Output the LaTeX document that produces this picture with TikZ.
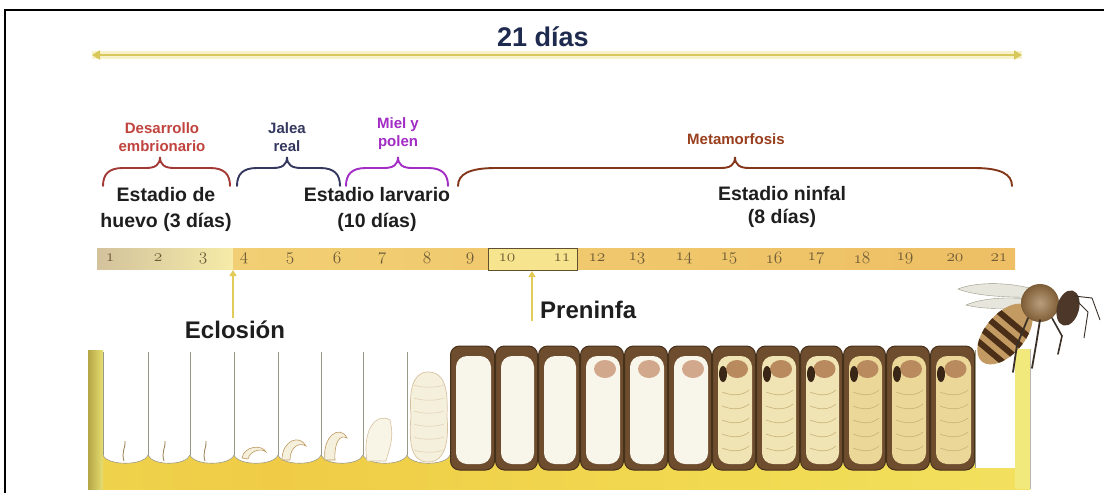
\documentclass[tikz,border=0pt]{standalone}
\usepackage{fontspec}
\setmainfont{Liberation Sans}
\usetikzlibrary{arrows.meta}

% palette
\definecolor{titleblue}{HTML}{1F2A4F}
\definecolor{inkdark}{HTML}{1E1E1E}
\definecolor{embred}{HTML}{C0433D}
\definecolor{jelly}{HTML}{35385E}
\definecolor{honey}{HTML}{A22CC4}
\definecolor{metabrown}{HTML}{9A3F1E}
\definecolor{spanyellow}{HTML}{D8C85A}
\definecolor{spanglow}{HTML}{F8F2CC}
\definecolor{barA}{HTML}{D3C29C}
\definecolor{barB}{HTML}{F6EBA8}
\definecolor{barC}{HTML}{F2CF74}
\definecolor{barD}{HTML}{EEBF64}
\definecolor{boxfill}{HTML}{F6E48E}
\definecolor{boxedge}{HTML}{5E5030}
\definecolor{numink}{HTML}{6E5C38}
\definecolor{pointer}{HTML}{E2CB58}
\definecolor{bandA}{HTML}{ECE25A}
\definecolor{bandB}{HTML}{F0CC46}
\definecolor{bandC}{HTML}{F1DA52}
\definecolor{bandD}{HTML}{F4EA74}
\definecolor{wallA}{HTML}{B5A646}
\definecolor{wallB}{HTML}{E6DE72}
\definecolor{wallR}{HTML}{F1E97C}
\definecolor{cellgray}{HTML}{9A9886}
\definecolor{capbrown}{HTML}{6E4D2F}
\definecolor{capedge}{HTML}{45301A}
\definecolor{pupaW}{HTML}{F8F5EA}
\definecolor{pupaY}{HTML}{F1E4B4}
\definecolor{pupaYY}{HTML}{EBD898}
\definecolor{headPink}{HTML}{D2A88C}
\definecolor{headBrown}{HTML}{B98A5E}
\definecolor{eyeDark}{HTML}{3A2616}
\definecolor{pupaline}{HTML}{C9B276}
\definecolor{larvaCream}{HTML}{F5F0DC}
\definecolor{larvaEdge}{HTML}{BE9A62}
\definecolor{beeTan}{HTML}{C29A62}
\definecolor{beeStripe}{HTML}{4A2E18}
\definecolor{beeThorax}{HTML}{9C7444}
\definecolor{beeHead}{HTML}{4C3728}
\definecolor{beeLeg}{HTML}{3A3028}
\definecolor{wingGray}{HTML}{E4E4DA}

\pgfdeclarehorizontalshading{band}{100bp}{color(0bp)=(bandA); color(35bp)=(bandB); color(60bp)=(bandC); color(100bp)=(bandD)}

% a curly stage brace: left x, tip x, right x, colour, end spread
\newcommand\stagebrace[5]{%
  \draw[bracestyle,#4] (#1,186) .. controls (#1,174) and ({#1+0.3*#5},168) .. ({#1+#5},168)
    -- ({#2-14},168) .. controls ({#2-5},168) and (#2,165) .. (#2,157)
    .. controls (#2,165) and ({#2+5},168) .. ({#2+14},168)
    -- ({#3-#5},168) .. controls ({#3-0.3*#5},168) and (#3,174) .. (#3,186);}

\newcommand\daynum[1]{{\usefont{OML}{cmm}{m}{it}\fontsize{17}{18}\selectfont #1}}

\tikzset{
  bracestyle/.style={line width=1.9pt, line cap=round},
  titletext/.style={font=\bfseries\fontsize{27}{30}\selectfont, text=titleblue, inner sep=0pt},
  stagetext/.style={font=\bfseries\fontsize{19.5}{26}\selectfont, text=inkdark, align=center, inner sep=0pt},
  labeltext/.style={font=\bfseries\fontsize{15}{18}\selectfont, align=center, inner sep=0pt},
  calltext/.style={font=\bfseries\fontsize{24}{28}\selectfont, text=inkdark, inner sep=0pt, anchor=base},
  daylabel/.style={text=numink, inner sep=0pt},
  pointerarrow/.style={draw=pointer, line width=2.6pt, -{Triangle[length=6pt,width=7pt]}},
  cellline/.style={draw=cellgray, line width=0.6pt},
}

\begin{document}
\begin{tikzpicture}[x=1pt,y=-1pt]
\useasboundingbox (0,0) rectangle (1104,493);
\fill[white] (0,0) rectangle (1104,493);

% frame
\draw[line width=2.6pt] (5,493) -- (5,10) -- (1104,10);

% ---- overall span ----
\coordinate (spanL) at (92,55);
\coordinate (spanR) at (1022,55);
\draw[spanglow, line width=8pt] (spanL) -- (spanR);
\draw[spanyellow, line width=2.8pt, {Triangle[length=8pt,width=9pt]}-{Triangle[length=8pt,width=9pt]}] (spanL) -- (spanR);
\node[titletext] (title) at (543,37) {21 días};

% ---- feeding / phase labels and braces ----
\node[labeltext, text=embred] (desarrollo) at (162,137) {Desarrollo\\embrionario};
\node[labeltext, text=jelly] (jalea) at (287,137) {Jalea\\real};
\node[labeltext, text=honey] (miel) at (398,134) {Miel y\\polen};
\node[labeltext, text=metabrown] (metam) at (736,139) {Metamorfosis};

\stagebrace{103}{160}{230}{embred!85!black}{20}
\stagebrace{237}{287}{340}{jelly}{20}
\stagebrace{346}{398}{448}{honey}{20}
\stagebrace{458}{735}{1012}{metabrown!85!black}{38}

% ---- stage names ----
\node[stagetext] (huevo) at (166,209) {Estadio de\\huevo (3 días)};
\node[stagetext] (larvario) at (377,209) {Estadio larvario\\(10 días)};
\node[stagetext, font=\bfseries\fontsize{19.5}{23}\selectfont] (ninfal) at (782,207) {Estadio ninfal\\(8 días)};

% ---- day bar ----
\shade[left color=barA, right color=barB] (97,248) rectangle (233,269);
\shade[left color=barC, right color=barD] (233,248) rectangle (1015,269);
\filldraw[fill=boxfill, draw=boxedge, line width=0.9pt] (488,248) rectangle (577,270);
\foreach \n/\x in {1/110,2/158,3/203,4/244,5/290,6/337,7/382,8/427,9/470,10/507,11/562,
                   12/597,13/637,14/684,15/729,16/774,17/816,18/862,19/905,20/955,21/999}
  \node[daylabel] (d\n) at (\x,258) {\daynum{\n}};

% ---- hatching and prepupa pointers ----
\coordinate (eclFoot) at (233,318);
\coordinate (eclHead) at (233,270);
\draw[pointerarrow] (eclFoot) -- (eclHead);
\node[calltext] (eclosion) at (235,338) {Eclosión};

\coordinate (preFoot) at (532,321);
\coordinate (preHead) at (532,271);
\draw[pointerarrow] (preFoot) -- (preHead);
\node[calltext, anchor=base west] (preninfa) at (540,318) {Preninfa};

% ---- comb: base and walls ----
\shade[shading=band] (88,456) rectangle (1030,489);
\shade[left color=wallA, right color=wallB] (88,350) rectangle (103,489);
\fill[wallR] (1015,349) rectangle (1030,489);
\draw[cellgray!70, line width=0.5pt] (1030,349) -- (1030,489);

% open cells: white interiors with rounded floors
\foreach \a/\b in {103/148,148/190,190/234,234/278,278/321,321/363,363/407,407/450}{
  \fill[white] (\a,352) -- (\a,455) .. controls ({\a+4},466) and ({\b-4},466) .. (\b,455) -- (\b,352) -- cycle;
  \draw[cellline] (\a,455) .. controls ({\a+4},466) and ({\b-4},466) .. (\b,455);
}
\foreach \x in {103,148,190,234,278,321,363,407}
  \draw[cellline] (\x,352) -- (\x,455);

% eggs
\foreach \x in {124,164,205}
  \draw[larvaEdge!80!black, line width=0.8pt] (\x,461) .. controls ({\x-3},452) and ({\x+2},447) .. ({\x+1},441);
% young larvae, growing
\filldraw[fill=larvaCream, draw=larvaEdge, line width=0.6pt] (242,458) .. controls (244,446) and (262,444) .. (266,452) .. controls (262,448) and (250,450) .. (248,459) -- cycle;
\filldraw[fill=larvaCream, draw=larvaEdge, line width=0.6pt] (282,460) .. controls (282,440) and (300,434) .. (306,446) .. controls (300,442) and (290,446) .. (290,460) -- cycle;
\filldraw[fill=larvaCream, draw=larvaEdge, line width=0.6pt] (325,460) .. controls (322,436) and (340,424) .. (347,438) .. controls (340,434) and (334,442) .. (335,460) -- cycle;
\filldraw[fill=larvaCream!70!white, draw=larvaEdge!60!white, line width=0.6pt] (367,461) .. controls (362,430) and (376,412) .. (390,420) .. controls (395,440) and (388,452) .. (386,461) -- cycle;
% mature larva filling its cell
\filldraw[fill=larvaCream, draw=larvaEdge!60!white, line width=0.7pt] (428,372) .. controls (446,372) and (448,392) .. (447,416) .. controls (449,440) and (446,462) .. (428,462) .. controls (410,462) and (409,440) .. (411,416) .. controls (409,392) and (412,372) .. (428,372) -- cycle;
\foreach \y in {385,398,411,424,437,450}
  \draw[larvaEdge!50!white, line width=0.5pt] (414,\y) .. controls (422,{\y+3}) and (436,{\y+3}) .. (444,\y);

% capped cells with developing pupae
\foreach \a/\b/\pc/\hc in {450/495/pupaW/pupaW, 495/538/pupaW/pupaW, 538/580/pupaW/pupaW,
    580/624/pupaW/headPink, 624/668/pupaW/headPink, 668/712/pupaW/headPink,
    712/756/pupaY/headBrown, 756/800/pupaY/headBrown, 800/843/pupaY/headBrown,
    843/886/pupaYY/headBrown, 886/930/pupaYY/headBrown, 930/975/pupaYY/headBrown}{
  \filldraw[fill=capbrown, draw=capedge, line width=1pt, rounded corners=9pt] ({\a+0.5},346) rectangle ({\b-0.5},470);
  \fill[\pc, rounded corners=11pt] ({\a+6},356) rectangle ({\b-4},464);
  \fill[\hc] ({(\a+\b)/2+3},369) ellipse (11 and 9);
}
% eyes and body segments of the older pupae
\foreach \a/\b in {712/756,756/800,800/843,843/886,886/930,930/975}{
  \fill[eyeDark] ({\a+11},374) ellipse (4 and 8);
  \foreach \y in {392,406,420,434,448}
    \draw[pupaline, line width=0.6pt] ({\a+10},\y) .. controls ({\a+20},{\y+4}) and ({\b-14},{\y+4}) .. ({\b-7},{\y-2});
}
% empty cell awaiting the new bee
\fill[white] (975,350) rectangle (1015,468);
\draw[cellline] (975,350) -- (975,468);

% ---- the emerging adult bee ----
\fill[wingGray, opacity=0.9] (1040,291) .. controls (1010,281) and (975,282) .. (958,289) .. controls (975,296) and (1010,298) .. (1040,297) -- cycle;
\draw[cellgray, line width=0.4pt] (1040,291) .. controls (1010,281) and (975,282) .. (958,289) .. controls (975,296) and (1010,298) .. (1040,297);
\fill[wingGray, opacity=0.9] (1038,300) .. controls (1010,296) and (982,298) .. (966,305) .. controls (985,310) and (1015,309) .. (1038,306) -- cycle;
\draw[cellgray, line width=0.4pt] (1038,300) .. controls (1010,296) and (982,298) .. (966,305) .. controls (985,310) and (1015,309) .. (1038,306);
\begin{scope}[shift={(1005,334)}, rotate=50]
  \clip (0,0) ellipse (36 and 20);
  \fill[beeTan] (-40,-25) rectangle (40,25);
  \foreach \t in {-26,-14,-2,10}
    \fill[beeStripe] (\t,-25) rectangle ({\t+6},25);
\end{scope}
\shade[inner color=beeThorax!70!white, outer color=beeThorax!80!black] (1040,303) circle (19);
\draw[beeLeg, line width=1.8pt, line cap=round] (1028,318) -- (1017,345) -- (1013,372);
\draw[beeLeg, line width=1.8pt, line cap=round] (1040,320) -- (1036,345) -- (1032,368);
\draw[beeLeg, line width=1.6pt, line cap=round] (1052,318) -- (1062,336) -- (1058,354);
\fill[beeHead, rotate around={-15:(1068,308)}] (1068,308) ellipse (11 and 18);
\draw[beeLeg, line width=0.9pt] (1074,296) -- (1092,298) -- (1100,320);
\draw[beeLeg, line width=0.9pt] (1076,300) -- (1088,312) -- (1084,338);
\end{tikzpicture}
\end{document}
